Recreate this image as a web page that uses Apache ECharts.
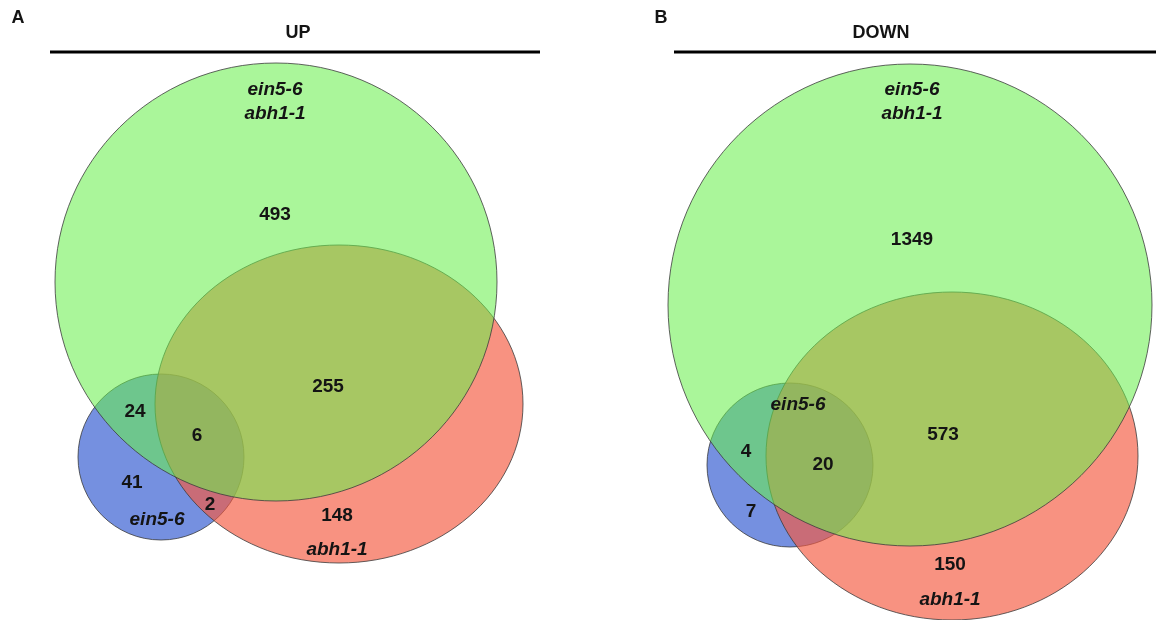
<!DOCTYPE html>
<html>
<head>
<meta charset="utf-8">
<script src="https://cdn.jsdelivr.net/npm/echarts@6/dist/echarts.min.js"></script>
<style>html,body{margin:0;padding:0;background:#fff}#c{width:1156px;height:620px}</style>
</head>
<body>
<div id="c"></div>
<script>
// ---- data ----
const panelLetters = ['A', 'B'];
const panelTitles = ['UP', 'DOWN'];
const setNames = ['ein5-6', 'abh1-1', 'ein5-6\nabh1-1']; // blue, red, green
const regionKeys = ['greenOnly', 'greenBlue', 'all', 'greenRed', 'blueOnly', 'blueRed', 'redOnly'];
const upCounts   = [493, 24, 6, 255, 41, 2, 148];
const downCounts = [1349, 4, 20, 573, 7, null, 150];
const panelCounts = [upCounts, downCounts];

// ---- layout (positions / sizes in pixel-space axis units) ----
const layout = [
  {
    letter: [18, 18], title: [298, 33], rule: [50, 540, 52],
    ellipses: { blue: [161, 457, 83, 83], red: [339, 404, 184, 159], green: [276, 282, 221, 219] },
    labels: { greenOnly: [275, 215], greenBlue: [135, 412], all: [197, 436], greenRed: [328, 387],
              blueOnly: [132, 483], blueRed: [210, 505], redOnly: [337, 516] },
    names: { blue: [157, 520], red: [337, 550], green: [275, 102] }
  },
  {
    letter: [661, 18], title: [881, 33], rule: [674, 1156, 52],
    ellipses: { blue: [790, 465, 83, 82], red: [952, 456, 186, 164], green: [910, 305, 242, 241] },
    labels: { greenOnly: [912, 240], greenBlue: [746, 452], all: [823, 465], greenRed: [943, 435],
              blueOnly: [751, 512], blueRed: [0, 0], redOnly: [950, 565] },
    names: { blue: [798, 405], red: [950, 600], green: [912, 102] }
  }
];

const styles = {
  blue:  { fill: 'rgb(117,144,224)' },
  red:   { fill: 'rgba(245,89,64,0.66)' },
  green: { fill: 'rgba(105,240,77,0.57)' }
};
const FONT = '"Liberation Sans", Arial, sans-serif';

// build items
const shapeItems = [];
const textItems = [];
const ruleItems = [];
layout.forEach((L, p) => {
  ['blue', 'red', 'green'].forEach(k => {
    const e = L.ellipses[k];
    shapeItems.push({ value: [e[0], e[1], e[2], e[3]], key: k });
  });
  textItems.push({ value: [L.letter[0], L.letter[1]], text: panelLetters[p], kind: 'letter' });
  textItems.push({ value: [L.title[0], L.title[1]], text: panelTitles[p], kind: 'title' });
  ruleItems.push({ value: [L.rule[0], L.rule[2], L.rule[1], L.rule[2]] });
  regionKeys.forEach((rk, i) => {
    const v = panelCounts[p][i];
    if (v === null) return;
    const pos = L.labels[rk];
    textItems.push({ value: [pos[0], pos[1]], text: String(v), kind: 'num' });
  });
  const nm = { blue: setNames[0], red: setNames[1], green: setNames[2] };
  Object.keys(nm).forEach(k => {
    const pos = L.names[k];
    textItems.push({ value: [pos[0], pos[1]], text: nm[k], kind: 'name' });
  });
});

const chart = echarts.init(document.getElementById('c'), null, { renderer: 'canvas' });
chart.setOption({
  animation: false,
  backgroundColor: '#fff',
  grid: { left: 0, right: 0, top: 0, bottom: 0 },
  xAxis: { type: 'value', min: 0, max: 1156, show: false },
  yAxis: { type: 'value', min: 0, max: 620, inverse: true, show: false },
  series: [
    {
      type: 'custom',
      data: shapeItems,
      renderItem: function (params, api) {
        const d = shapeItems[params.dataIndex];
        const c = api.coord([d.value[0], d.value[1]]);
        const edge = api.coord([d.value[0] + d.value[2], d.value[1] + d.value[3]]);
        const st = styles[d.key];
        return {
          type: 'ellipse',
          shape: { cx: c[0], cy: c[1], rx: Math.abs(edge[0] - c[0]), ry: Math.abs(edge[1] - c[1]) },
          style: { fill: st.fill, stroke: 'rgba(60,60,60,0.8)', lineWidth: 1 }
        };
      }
    },
    {
      type: 'custom',
      data: ruleItems,
      renderItem: function (params, api) {
        const d = ruleItems[params.dataIndex].value;
        const a = api.coord([d[0], d[1]]);
        const b = api.coord([d[2], d[3]]);
        return { type: 'line', shape: { x1: a[0], y1: a[1], x2: b[0], y2: b[1] },
                 style: { stroke: '#000', lineWidth: 3 } };
      }
    },
    {
      type: 'custom',
      data: textItems,
      renderItem: function (params, api) {
        const d = textItems[params.dataIndex];
        const c = api.coord(d.value);
        let font = 'bold 19px ' + FONT;
        if (d.kind === 'name') font = 'italic bold 19px ' + FONT;
        if (d.kind === 'title') font = 'bold 18px ' + FONT;
        if (d.kind === 'letter') font = 'bold 18px ' + FONT;
        return {
          type: 'text',
          x: c[0], y: c[1],
          style: {
            text: d.text, font: font, fill: '#141414',
            align: 'center', verticalAlign: 'middle',
            textAlign: 'center', textVerticalAlign: 'middle',
            lineHeight: 24
          }
        };
      }
    }
  ]
});
</script>
</body>
</html>
